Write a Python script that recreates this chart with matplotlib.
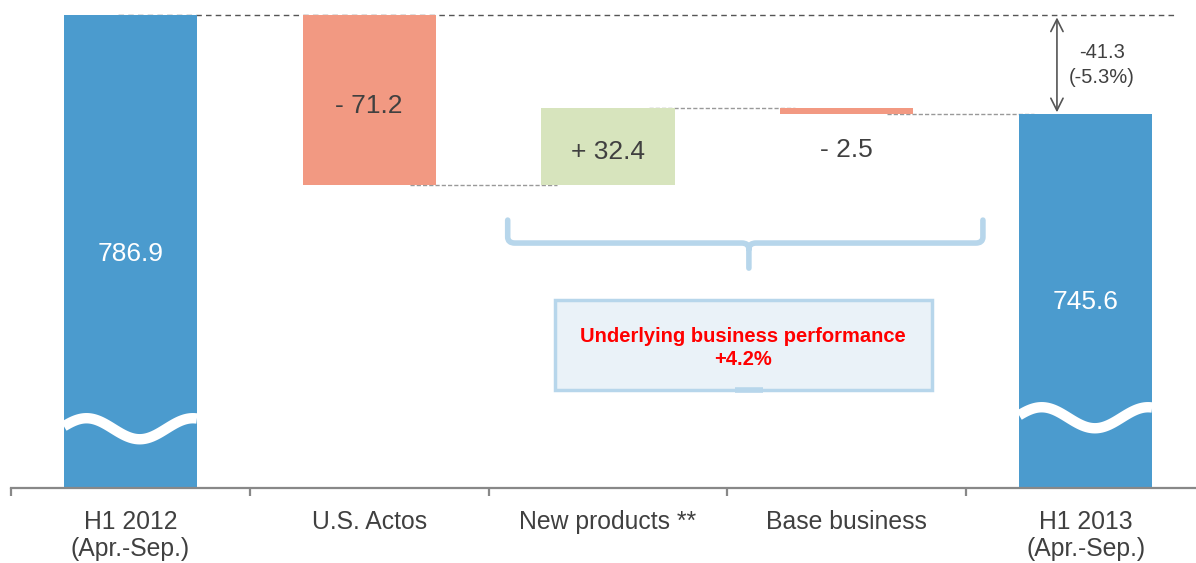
import matplotlib.pyplot as plt
import numpy as np
from matplotlib.path import Path
from matplotlib.patches import PathPatch, Rectangle

plt.rcParams['font.family'] = ['Liberation Sans', 'DejaVu Sans']

# Daten (Mrd. Yen)
kategorien = ['H1 2012\n(Apr.-Sep.)', 'U.S. Actos', 'New products **',
              'Base business', 'H1 2013\n(Apr.-Sep.)']
start_wert = 786.9
aenderungen = [-71.2, 32.4, -2.5]
end_wert = 745.6
diff_text = '-41.3\n(-5.3%)'
hinweis_text = 'Underlying business performance\n+4.2%'

BLAU = '#4b9bce'
ROT = '#f29982'
GRUEN = '#d7e4bd'
GRAU = '#404040'
HELLBLAU = '#b7d6eb'

y_min, y_max = 589.0, 793.2
breite = 0.557

fig = plt.figure(figsize=(11.96, 5.63), dpi=100)
ax = fig.add_axes([11 / 1196, 1 - 488 / 563, 1194 / 1196, 488 / 563])
ax.set_xlim(-0.5, 4.5)
ax.set_ylim(y_min, y_max)

# Summenbalken
ax.bar([0, 4], [start_wert - y_min, end_wert - y_min], bottom=y_min,
       width=breite, color=BLAU, zorder=2)

# Delta-Balken
stand = start_wert
niveaus = [start_wert]
for i, d in enumerate(aenderungen, start=1):
    unten = min(stand, stand + d)
    ax.bar(i, abs(d), bottom=unten, width=breite,
           color=GRUEN if d > 0 else ROT, zorder=2)
    stand += d
    niveaus.append(stand)

# Verbindungslinien
ax.plot([-0.05, 4.38], [start_wert, start_wert], color='#555555',
        lw=1.0, ls=(0, (4, 3)), zorder=1)
for i in range(1, 4):
    ax.plot([i + 0.17, i + 0.785], [niveaus[i], niveaus[i]], color='#999999',
            lw=1.0, ls=(0, (3, 1.5)), zorder=1)

# Werte-Beschriftungen
ax.annotate(f'{start_wert:.1f}', (0, (start_wert + y_min) / 2),
            xytext=(0, -2), textcoords='offset points', color='white',
            fontsize=19, ha='center', va='center', zorder=3)
ax.annotate(f'{end_wert:.1f}', (4, (end_wert + y_min) / 2),
            xytext=(0, -1), textcoords='offset points', color='white',
            fontsize=19, ha='center', va='center', zorder=3)
vorher = start_wert
for i, d in enumerate(aenderungen, start=1):
    txt = f'+ {d:.1f}' if d > 0 else f'- {abs(d):.1f}'
    if abs(d) > 10:
        ax.annotate(txt, (i, vorher + d / 2), xytext=(0, -4),
                    textcoords='offset points', color=GRAU, fontsize=19,
                    ha='center', va='center', zorder=3)
    else:
        ax.annotate(txt, (i, min(vorher, vorher + d)), xytext=(0, -26),
                    textcoords='offset points', color=GRAU, fontsize=19,
                    ha='center', va='center')
    vorher += d

# Achsenbruch (weisse Welle)
t = np.linspace(0, 1, 100)
for pos, mitte in [(0, 613.8), (4, 618.4)]:
    xs = pos - breite / 2 + t * breite
    ys = mitte + 4.4 * np.cos(2 * np.pi * (t - 0.17) / 0.8)
    ax.plot(xs, ys, color='white', lw=7.5, solid_capstyle='butt', zorder=3)

# Differenzpfeil
ax.annotate('', xy=(3.88, end_wert + 0.6), xytext=(3.88, start_wert - 1.0),
            arrowprops=dict(arrowstyle='<->', color='#555555', lw=1.2,
                            mutation_scale=22, shrinkA=0, shrinkB=0))
ax.text(4.067, 766.0, diff_text, color=GRAU,
        fontsize=14.5, ha='center', va='center', linespacing=1.35)

# Klammer
xl, xr, xm = 1.58, 3.57, 2.59
yo, yu, ys = 701.1, 691.5, 681.0
r = 0.03
verts = [(xl, yo), (xl, yu + 2.5), (xl, yu), (xl + r, yu),
         (xm - r, yu), (xm, yu), (xm, yu - 2.5), (xm, ys),
         (xm, yu - 2.5), (xm, yu), (xm + r, yu),
         (xr - r, yu), (xr, yu), (xr, yu + 2.5), (xr, yo)]
codes = [Path.MOVETO, Path.LINETO, Path.CURVE3, Path.CURVE3,
         Path.LINETO, Path.CURVE3, Path.CURVE3, Path.LINETO,
         Path.MOVETO, Path.CURVE3, Path.CURVE3,
         Path.LINETO, Path.CURVE3, Path.CURVE3, Path.LINETO]
ax.add_patch(PathPatch(Path(verts, codes), fill=False, edgecolor=HELLBLAU,
                       lw=4, capstyle='round', joinstyle='round', zorder=2))

# Hinweisbox
ax.add_patch(Rectangle((1.778, 630.1), 1.577, 37.6, facecolor='#eaf2f8',
                       edgecolor=HELLBLAU, lw=2.5, zorder=2))
ax.plot([2.53, 2.65], [630.1, 630.1], color=HELLBLAU, lw=4,
        solid_capstyle='butt', zorder=3)
ax.text(2.566, 647.6, hinweis_text, color='#ff0000', fontsize=14.5,
        fontweight='bold', ha='center', va='center', linespacing=1.25,
        zorder=4)

# Achsen
for s in ['top', 'right', 'left']:
    ax.spines[s].set_visible(False)
ax.spines['bottom'].set_color('#888888')
ax.spines['bottom'].set_linewidth(1.6)
ax.set_yticks([])
ax.set_xticks(range(5))
ax.set_xticklabels(kategorien, fontsize=17.8, color=GRAU, linespacing=1.15)
ax.set_xticks(np.arange(-0.5, 5, 1), minor=True)
ax.tick_params(axis='x', which='major', length=0, pad=16)
ax.tick_params(axis='x', which='minor', length=6, width=1.6,
               color='#888888', direction='out')

fig.savefig('out.png', dpi=100)
